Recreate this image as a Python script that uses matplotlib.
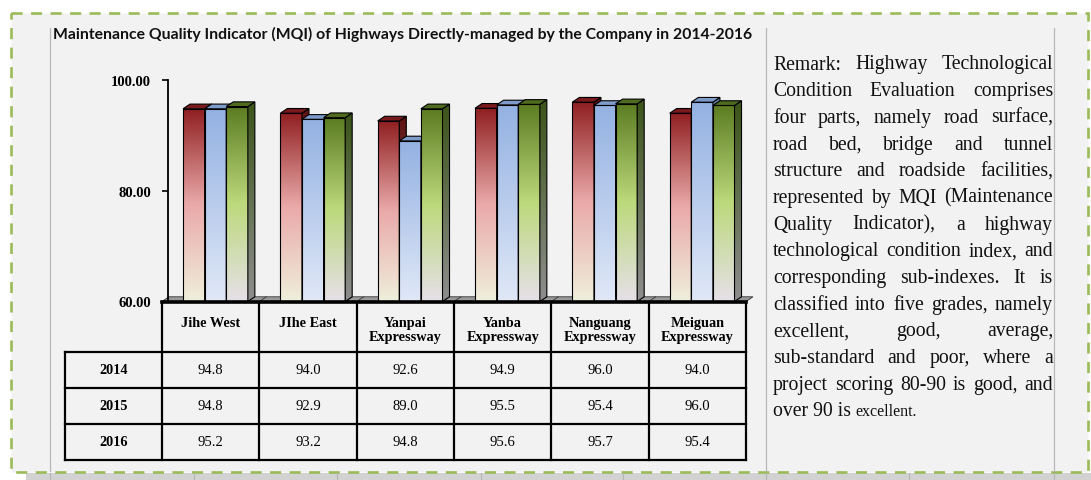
import numpy as np
import matplotlib
matplotlib.use("Agg")
import matplotlib.pyplot as plt
from matplotlib.colors import LinearSegmentedColormap
from matplotlib.patches import Polygon, Rectangle

# data
roads = ["Jihe West", "JIhe East", "Yanpai\nExpressway", "Yanba\nExpressway",
         "Nanguang\nExpressway", "Meiguan\nExpressway"]
years = ["2014", "2015", "2016"]
mqi_2014 = [94.8, 94.0, 92.6, 94.9, 96.0, 94.0]
mqi_2015 = [94.8, 92.9, 89.0, 95.5, 95.4, 96.0]
mqi_2016 = [95.2, 93.2, 94.8, 95.6, 95.7, 95.4]
y_ticks = [60, 80, 100]

title = ("Maintenance Quality Indicator (MQI) of Highways Directly-managed "
         "by the Company in 2014-2016")
remark_lines = [
    "Remark: Highway Technological",
    "Condition Evaluation comprises",
    "four parts, namely road surface,",
    "road bed, bridge and tunnel",
    "structure and roadside facilities,",
    "represented by MQI (Maintenance",
    "Quality Indicator), a highway",
    "technological condition index, and",
    "corresponding sub-indexes. It is",
    "classified into five grades, namely",
    "excellent, good, average,",
    "sub-standard and poor, where a",
    "project scoring 80-90 is good, and",
]
remark_last = ("over 90 is", "excellent.")

SERIF = "Liberation Serif"
W, H = 1091, 481

fig = plt.figure(figsize=(W / 100, H / 100), dpi=100)
fig.patch.set_facecolor("white")

# background layer in pixel coordinates
bg = fig.add_axes([0, 0, 1, 1])
bg.set_xlim(0, W)
bg.set_ylim(H, 0)
bg.axis("off")

bg.add_patch(Rectangle((26, 474), W - 26, 8, facecolor="#d2d2d2", edgecolor="none"))
for xv in [50, 194, 337, 481, 623, 766, 909, 1054]:
    bg.plot([xv, xv], [474, 481], color="#b4b4b4", lw=0.8)
bg.add_patch(Rectangle((11, 14), 1077, 459, facecolor="#f2f2f2", edgecolor="#9bbb59",
                       lw=1.9, linestyle=(0, (4.2, 3.2))))
for xv in [50, 766, 1054]:
    bg.plot([xv, xv], [29, 472], color="#b8b8b8", lw=0.9)

bg.text(53, 34, title, fontsize=11.3, fontweight="bold", family="Lato",
        va="center", ha="left", color="#111111")

# table under the chart
col_edges = np.linspace(162, 746, len(roads) + 1)
row_edges = [353, 389, 425, 461]
lw_t = 1.6
bg.plot([162, 162], [303, 461], color="black", lw=lw_t)
for xv in col_edges[1:]:
    bg.plot([xv, xv], [303, 461], color="black", lw=lw_t)
bg.plot([65, 65], [353, 461], color="black", lw=lw_t)
for yv in row_edges:
    bg.plot([65, 746], [yv, yv], color="black", lw=lw_t)

for i, name in enumerate(roads):
    cx = (col_edges[i] + col_edges[i + 1]) / 2
    bg.text(cx, 317, name, ha="center", va="top", fontsize=10.3, fontweight="bold",
            family=SERIF, linespacing=1.1)

for r, (yr, vals) in enumerate(zip(years, [mqi_2014, mqi_2015, mqi_2016])):
    cy = (row_edges[r] + row_edges[r + 1]) / 2
    bg.text((65 + 162) / 2, cy, yr, ha="center", va="center", fontsize=10.3,
            fontweight="bold", family=SERIF)
    for i, v in enumerate(vals):
        cx = (col_edges[i] + col_edges[i + 1]) / 2
        bg.text(cx, cy, f"{v:.1f}", ha="center", va="center", fontsize=10.5, family=SERIF)

# justified remark paragraph
renderer = fig.canvas.get_renderer()
x0, x1 = 773, 1053
fs = 14.2
for k, line in enumerate(remark_lines):
    yb = 69.5 + k * 26.67
    words = line.split()
    texts = [bg.text(0, yb, w, fontsize=fs, family=SERIF, va="baseline", color="#111111")
             for w in words]
    widths = [t.get_window_extent(renderer).width for t in texts]
    gap = (x1 - x0 - sum(widths)) / max(len(words) - 1, 1)
    xp = x0
    for t, wd in zip(texts, widths):
        t.set_x(xp)
        xp += wd + gap
yb = 69.5 + len(remark_lines) * 26.67
t1 = bg.text(x0, yb, remark_last[0], fontsize=fs, family=SERIF, va="baseline", color="#111111")
w1 = t1.get_window_extent(renderer).width
bg.text(x0 + w1 + 4, yb, remark_last[1], fontsize=11.5, family=SERIF, va="baseline",
        color="#111111")

# 3D-looking bar chart
ax = fig.add_axes([162 / W, 1 - 302.5 / H, (746 - 162) / W, (302.5 - 81) / H])
ax.patch.set_alpha(0)

front_maps = [
    LinearSegmentedColormap.from_list("r", [(0, "#efefdc"), (0.5, "#eaa9a9"), (1, "#8f1e20")]),
    LinearSegmentedColormap.from_list("b", [(0, "#e0e8f7"), (1, "#93b1e2")]),
    LinearSegmentedColormap.from_list("g", [(0, "#e6e0e8"), (0.5, "#bcd97b"), (1, "#5c7c22")]),
]
side_maps = [
    LinearSegmentedColormap.from_list("rs", [(0, "#9a8f88"), (1, "#5e1012")]),
    LinearSegmentedColormap.from_list("bs", [(0, "#9ca4b2"), (1, "#6680ad")]),
    LinearSegmentedColormap.from_list("gs", [(0, "#8e8e8e"), (1, "#3b5418")]),
]
top_colors = ["#7a1a1c", "#7e9bc9", "#4f6b1d"]

x = np.arange(len(roads))
bw = 0.222
dx, dy = 0.072, 0.85
base = 60
grad = np.linspace(0, 1, 256).reshape(-1, 1)

# floor
floor = Polygon([(0, base), (len(roads), base), (len(roads) + dx, base + dy), (dx, base + dy)],
                closed=True, facecolor="#9a9a9a", edgecolor="#333333", lw=0.6,
                zorder=1.5, clip_on=False)
ax.add_patch(floor)
for xv in range(1, len(roads)):
    ax.plot([xv, xv + dx], [base, base + dy], color="#333333", lw=0.6, zorder=1.6)

for k, vals in enumerate([mqi_2014, mqi_2015, mqi_2016]):
    z = 3 + k
    heights = np.array(vals) - base
    bars = ax.bar(x + 0.216 + bw / 2 + k * bw, heights, bw, bottom=base,
                  facecolor="none", edgecolor="black", lw=0.8, zorder=z + 0.1)
    for b in bars:
        bx, bt = b.get_x(), b.get_y() + b.get_height()
        img = ax.imshow(grad, cmap=front_maps[k], extent=[bx, bx + bw, base, bt],
                        origin="lower", aspect="auto", zorder=z, interpolation="bilinear")
        img.set_clip_path(b)
        side = Polygon([(bx + bw, base), (bx + bw + dx, base + dy),
                        (bx + bw + dx, bt + dy), (bx + bw, bt)], closed=True,
                       facecolor="none", edgecolor="black", lw=0.8, zorder=z + 0.3)
        ax.add_patch(side)
        simg = ax.imshow(grad, cmap=side_maps[k], extent=[bx + bw, bx + bw + dx, base, bt + dy],
                         origin="lower", aspect="auto", zorder=z + 0.2, interpolation="bilinear")
        simg.set_clip_path(side)
        top = Polygon([(bx, bt), (bx + bw, bt), (bx + bw + dx, bt + dy), (bx + dx, bt + dy)],
                      closed=True, facecolor=top_colors[k], edgecolor="black", lw=0.8,
                      zorder=z + 0.4)
        ax.add_patch(top)

ax.set_xlim(0, len(roads))
ax.set_ylim(60, 100)
ax.set_yticks(y_ticks)
ax.set_yticklabels([f"{t:.2f}" for t in y_ticks])
ax.set_xticks([])
for s in ["top", "right"]:
    ax.spines[s].set_visible(False)
ax.spines["left"].set_position(("outward", -4))
ax.spines["left"].set_linewidth(1.3)
ax.spines["bottom"].set_linewidth(2.6)
for s in ["left", "bottom"]:
    ax.spines[s].set_zorder(10)
ax.tick_params(axis="y", direction="out", length=4, width=1.2, pad=8)
for lbl in ax.get_yticklabels():
    lbl.set_fontfamily(SERIF)
    lbl.set_fontweight("bold")
    lbl.set_fontsize(10.5)

fig.savefig("out.png", dpi=100)
